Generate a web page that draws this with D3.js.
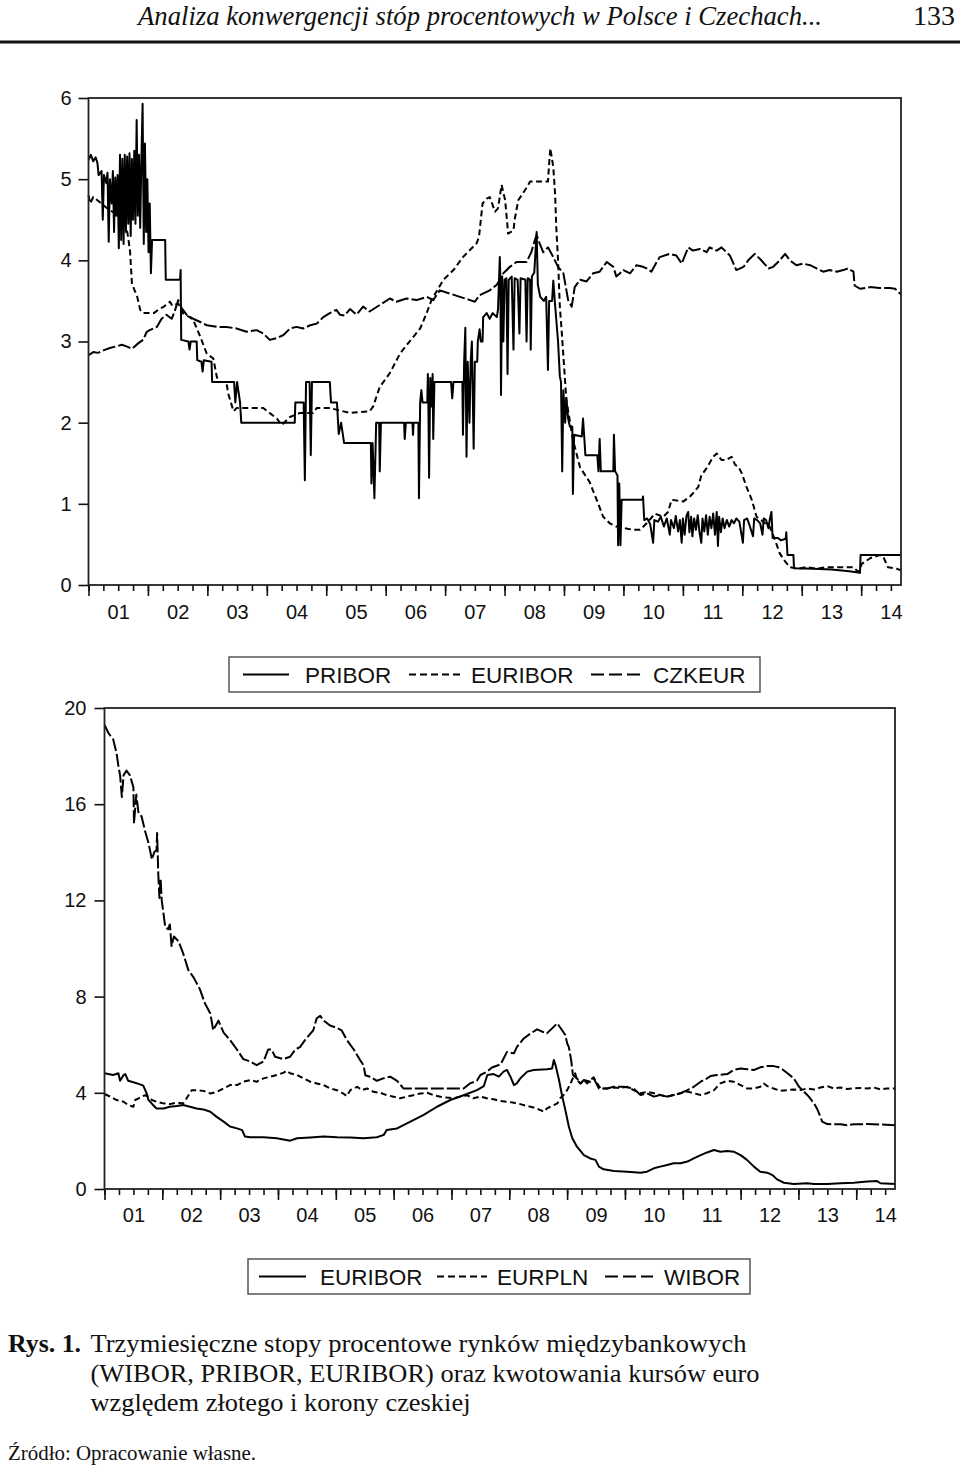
<!DOCTYPE html>
<html>
<head>
<meta charset="utf-8">
<script src="https://cdn.jsdelivr.net/npm/d3@7/dist/d3.min.js"></script>
<style>
body { margin: 0; background: #fff; }
svg text { font-family: "Liberation Sans", Arial, sans-serif; fill: #111; }
svg .serif { font-family: "Liberation Serif", "Times New Roman", serif; }
</style>
</head>
<body>
<svg id="chart" width="960" height="1471"></svg>
<script>
// ---- data: [year, value] ----
const pribor = [
  [2001.00,5.24],[2001.04,5.30],[2001.08,5.22],[2001.12,5.27],[2001.15,5.20],[2001.17,5.05],[2001.22,5.10],[2001.24,4.50],
  [2001.26,5.05],[2001.30,4.95],[2001.32,5.08],[2001.34,4.23],[2001.36,5.00],[2001.39,4.70],[2001.41,5.10],[2001.43,4.35],
  [2001.45,5.02],[2001.47,4.55],[2001.49,5.05],[2001.51,4.15],[2001.53,5.30],[2001.55,4.25],[2001.57,5.25],[2001.59,4.20],
  [2001.61,5.30],[2001.63,4.35],[2001.65,5.28],[2001.67,4.45],[2001.69,5.32],[2001.71,4.30],[2001.73,5.25],[2001.75,4.50],
  [2001.77,5.35],[2001.79,4.45],[2001.81,5.73],[2001.83,4.55],[2001.85,5.30],[2001.87,4.40],[2001.89,5.25],[2001.91,5.93],
  [2001.93,4.20],[2001.95,5.44],[2001.97,4.35],[2001.99,5.00],[2002.01,4.10],[2002.03,4.70],[2002.05,3.84],[2002.07,4.25],
  [2002.29,4.25],[2002.30,3.76],[2002.54,3.76],[2002.55,3.88],[2002.56,3.02],[2002.68,3.00],[2002.70,2.90],[2002.72,3.00],
  [2002.82,3.00],[2002.83,2.77],[2002.90,2.75],[2002.92,2.63],[2002.94,2.77],[2003.07,2.75],[2003.08,2.50],[2003.45,2.50],
  [2003.47,2.25],[2003.50,2.50],[2003.55,2.25],[2003.57,2.00],[2004.47,2.00],[2004.48,2.25],[2004.62,2.25],[2004.64,1.29],
  [2004.66,2.50],[2004.72,2.50],[2004.74,1.60],[2004.76,2.50],[2005.06,2.50],[2005.08,2.25],[2005.18,2.25],[2005.21,1.86],
  [2005.25,2.00],[2005.30,1.75],[2005.75,1.75],[2005.76,1.25],[2005.78,1.75],[2005.81,1.07],[2005.84,2.00],[2005.89,2.00],
  [2005.90,1.40],[2005.92,2.00],[2006.31,2.00],[2006.32,1.80],[2006.34,2.00],[2006.45,2.00],[2006.46,1.85],[2006.47,2.00],
  [2006.55,2.00],[2006.56,1.07],[2006.58,2.25],[2006.60,2.40],[2006.62,2.25],[2006.70,2.25],[2006.71,2.60],[2006.72,2.10],
  [2006.73,1.32],[2006.75,2.55],[2006.77,2.20],[2006.79,2.60],[2006.80,1.80],[2006.82,2.50],[2007.10,2.50],[2007.12,2.30],
  [2007.14,2.50],[2007.29,2.50],[2007.30,1.85],[2007.32,2.75],[2007.34,3.17],[2007.36,1.58],[2007.38,2.75],[2007.41,2.00],
  [2007.43,2.75],[2007.45,3.00],[2007.48,1.68],[2007.50,2.75],[2007.54,2.75],[2007.55,3.00],[2007.58,3.15],[2007.60,3.00],
  [2007.63,3.00],[2007.64,3.30],[2007.70,3.35],[2007.75,3.28],[2007.80,3.35],[2007.87,3.30],[2007.89,3.40],[2007.92,4.04],
  [2007.93,3.76],[2007.94,2.34],[2007.96,3.80],[2007.98,3.00],[2008.00,3.76],[2008.03,3.78],[2008.05,2.60],[2008.07,3.76],
  [2008.12,3.80],[2008.15,2.90],[2008.17,3.78],[2008.22,3.76],[2008.25,3.10],[2008.27,3.78],[2008.35,3.76],[2008.37,3.00],
  [2008.39,3.78],[2008.43,3.76],[2008.44,2.90],[2008.46,3.80],[2008.50,3.85],[2008.54,4.35],[2008.56,3.70],[2008.60,3.55],
  [2008.66,3.50],[2008.70,3.55],[2008.73,2.65],[2008.75,3.50],[2008.80,3.50],[2008.82,3.75],[2008.85,3.45],[2008.90,3.00],
  [2008.93,2.57],[2008.95,2.50],[2008.97,1.40],[2008.99,2.40],[2009.02,2.00],[2009.04,2.30],[2009.07,2.05],[2009.10,1.95],
  [2009.14,1.95],[2009.15,1.12],[2009.17,1.85],[2009.30,1.83],[2009.32,2.05],[2009.34,1.83],[2009.36,1.60],[2009.56,1.60],
  [2009.58,1.40],[2009.60,1.80],[2009.62,1.40],[2009.83,1.40],[2009.84,1.85],[2009.86,1.40],[2009.90,1.35],[2009.91,0.49],
  [2009.93,1.25],[2009.95,0.49],[2009.97,1.05],[2010.32,1.05],[2010.33,1.09],[2010.35,0.80],[2010.40,0.82],[2010.45,0.75],
  [2010.50,0.52],[2010.52,0.80],[2010.58,0.78],[2010.63,0.84],[2010.68,0.72],[2010.73,0.82],[2010.78,0.62],[2010.80,0.80],
  [2010.85,0.70],[2010.88,0.85],[2010.92,0.66],[2010.95,0.80],[2010.98,0.52],[2011.00,0.82],[2011.03,0.62],[2011.06,0.85],
  [2011.09,0.90],[2011.11,0.65],[2011.14,0.84],[2011.16,0.60],[2011.19,0.82],[2011.22,0.68],[2011.25,0.86],[2011.28,0.65],
  [2011.31,0.52],[2011.33,0.82],[2011.36,0.66],[2011.39,0.86],[2011.42,0.62],[2011.45,0.84],[2011.48,0.70],[2011.51,0.88],
  [2011.54,0.62],[2011.57,0.90],[2011.59,0.48],[2011.61,0.84],[2011.64,0.65],[2011.67,0.82],[2011.70,0.70],[2011.74,0.80],
  [2011.78,0.72],[2011.82,0.80],[2011.86,0.76],[2011.90,0.82],[2011.95,0.78],[2012.01,0.52],[2012.03,0.80],[2012.08,0.82],
  [2012.12,0.74],[2012.18,0.60],[2012.20,0.82],[2012.25,0.80],[2012.30,0.76],[2012.34,0.62],[2012.36,0.82],[2012.40,0.80],
  [2012.44,0.70],[2012.46,0.80],[2012.49,0.90],[2012.51,0.58],[2012.60,0.58],[2012.65,0.55],[2012.73,0.57],[2012.74,0.65],
  [2012.76,0.37],[2012.86,0.37],[2012.87,0.205],[2013.20,0.20],[2013.50,0.19],[2013.80,0.17],[2013.98,0.15],[2013.99,0.37],
  [2014.67,0.37]
];

const euriborTop = [
  [2001.00,4.80],[2001.03,4.70],[2001.08,4.78],[2001.15,4.74],[2001.25,4.68],[2001.35,4.62],[2001.45,4.58],[2001.53,4.58],
  [2001.64,4.40],[2001.67,4.27],[2001.70,4.10],[2001.73,3.72],[2001.77,3.64],[2001.82,3.55],[2001.87,3.39],[2001.92,3.35],
  [2002.10,3.35],[2002.17,3.39],[2002.27,3.43],[2002.37,3.49],[2002.41,3.44],[2002.51,3.47],[2002.59,3.35],[2002.76,3.27],
  [2002.88,3.06],[2002.99,2.85],[2003.10,2.79],[2003.16,2.56],[2003.21,2.50],[2003.32,2.50],[2003.35,2.36],[2003.44,2.14],
  [2003.49,2.18],[2003.72,2.18],[2003.94,2.18],[2004.17,2.05],[2004.25,1.97],[2004.39,2.07],[2004.56,2.12],[2004.78,2.12],
  [2004.84,2.18],[2005.06,2.18],[2005.40,2.12],[2005.73,2.14],[2005.79,2.20],[2005.90,2.44],[2006.07,2.61],[2006.24,2.85],
  [2006.38,2.98],[2006.58,3.16],[2006.69,3.35],[2006.77,3.51],[2006.97,3.76],[2007.14,3.88],[2007.30,4.04],[2007.53,4.21],
  [2007.57,4.29],[2007.63,4.70],[2007.70,4.76],[2007.75,4.78],[2007.84,4.60],[2007.89,4.64],[2007.95,4.93],[2008.01,4.74],
  [2008.06,4.33],[2008.15,4.37],[2008.17,4.50],[2008.23,4.74],[2008.34,4.86],[2008.43,4.97],[2008.73,4.97],[2008.75,5.19],
  [2008.77,5.38],[2008.82,5.15],[2008.85,4.82],[2008.87,4.41],[2008.90,4.00],[2008.93,3.43],[2008.96,3.14],[2009.04,2.28],
  [2009.15,1.79],[2009.27,1.45],[2009.43,1.27],[2009.55,1.05],[2009.66,0.84],[2009.77,0.76],[2009.88,0.72],[2010.16,0.68],
  [2010.28,0.68],[2010.39,0.76],[2010.53,0.88],[2010.67,0.84],[2010.75,0.90],[2010.81,1.05],[2011.01,1.03],[2011.12,1.09],
  [2011.17,1.13],[2011.26,1.21],[2011.31,1.35],[2011.40,1.44],[2011.51,1.58],[2011.57,1.62],[2011.65,1.54],[2011.73,1.54],
  [2011.82,1.58],[2011.88,1.48],[2011.93,1.46],[2011.99,1.38],[2012.07,1.21],[2012.16,1.05],[2012.24,0.84],[2012.35,0.78],
  [2012.46,0.72],[2012.55,0.555],[2012.63,0.39],[2012.72,0.29],[2012.80,0.22],[2012.94,0.20],[2013.08,0.22],[2013.25,0.20],
  [2013.42,0.22],[2013.87,0.22],[2013.95,0.16],[2014.01,0.26],[2014.15,0.33],[2014.31,0.37],[2014.37,0.35],[2014.45,0.22],
  [2014.60,0.20],[2014.67,0.18]
];

const czkeur = [
  [2001.00,2.83],[2001.08,2.87],[2001.16,2.86],[2001.25,2.89],[2001.36,2.92],[2001.47,2.94],[2001.56,2.96],[2001.64,2.94],
  [2001.73,2.91],[2001.84,2.98],[2001.92,3.02],[2001.98,3.12],[2002.03,3.14],[2002.15,3.18],[2002.23,3.28],[2002.31,3.33],
  [2002.40,3.28],[2002.45,3.37],[2002.51,3.51],[2002.57,3.41],[2002.65,3.33],[2002.76,3.28],[2002.88,3.24],[2002.99,3.20],
  [2003.16,3.18],[2003.32,3.18],[2003.49,3.16],[2003.66,3.12],[2003.83,3.14],[2003.94,3.10],[2004.05,3.02],[2004.16,3.04],
  [2004.28,3.08],[2004.39,3.16],[2004.50,3.18],[2004.61,3.16],[2004.73,3.20],[2004.84,3.22],[2004.95,3.30],[2005.06,3.35],
  [2005.17,3.39],[2005.23,3.33],[2005.31,3.32],[2005.40,3.40],[2005.51,3.33],[2005.62,3.43],[2005.73,3.37],[2005.90,3.45],
  [2006.07,3.53],[2006.18,3.49],[2006.35,3.53],[2006.52,3.51],[2006.69,3.55],[2006.80,3.51],[2006.91,3.63],[2007.08,3.59],
  [2007.25,3.55],[2007.42,3.51],[2007.50,3.49],[2007.58,3.57],[2007.75,3.63],[2007.87,3.70],[2007.98,3.84],[2008.09,3.92],
  [2008.20,3.98],[2008.37,3.98],[2008.45,4.10],[2008.51,4.25],[2008.54,4.31],[2008.59,4.21],[2008.65,4.10],[2008.73,4.16],
  [2008.82,4.04],[2008.90,3.92],[2008.99,3.84],[2009.07,3.51],[2009.13,3.43],[2009.18,3.67],[2009.27,3.76],[2009.38,3.74],
  [2009.49,3.84],[2009.60,3.86],[2009.72,3.98],[2009.83,3.92],[2009.88,3.80],[2010.00,3.88],[2010.11,3.84],[2010.22,3.94],
  [2010.33,3.92],[2010.39,3.90],[2010.47,3.86],[2010.56,3.98],[2010.61,4.04],[2010.78,4.08],[2010.89,4.06],[2010.98,3.96],
  [2011.09,4.16],[2011.17,4.12],[2011.29,4.14],[2011.40,4.10],[2011.45,4.16],[2011.57,4.12],[2011.65,4.16],[2011.79,4.06],
  [2011.90,3.88],[2012.02,3.92],[2012.10,4.00],[2012.21,4.08],[2012.32,4.00],[2012.44,3.90],[2012.52,3.92],[2012.63,4.00],
  [2012.72,4.08],[2012.80,4.00],[2012.91,3.94],[2013.02,3.96],[2013.14,3.94],[2013.25,3.90],[2013.36,3.86],[2013.47,3.88],
  [2013.59,3.86],[2013.70,3.88],[2013.78,3.90],[2013.87,3.86],[2013.89,3.69],[2013.98,3.65],[2014.15,3.67],[2014.31,3.66],
  [2014.48,3.66],[2014.57,3.65],[2014.67,3.58]
];

const euriborBottom = [
  [2001.00,4.81],[2001.15,4.74],[2001.24,4.81],[2001.27,4.50],[2001.33,4.74],[2001.36,4.78],[2001.41,4.50],[2001.50,4.44],
  [2001.59,4.37],[2001.67,4.30],[2001.73,3.97],[2001.76,3.70],[2001.79,3.63],[2001.84,3.49],[2001.90,3.35],[2002.02,3.35],
  [2002.13,3.42],[2002.25,3.45],[2002.36,3.49],[2002.48,3.42],[2002.59,3.35],[2002.71,3.31],[2002.83,3.21],[2002.94,3.00],
  [2003.06,2.80],[2003.17,2.60],[2003.29,2.52],[2003.38,2.45],[2003.43,2.18],[2003.52,2.15],[2003.75,2.15],[2003.98,2.11],
  [2004.21,2.01],[2004.33,2.11],[2004.56,2.14],[2004.79,2.18],[2005.02,2.15],[2005.25,2.14],[2005.48,2.11],[2005.71,2.15],
  [2005.83,2.25],[2005.88,2.45],[2006.06,2.52],[2006.29,2.80],[2006.52,3.08],[2006.75,3.42],[2006.98,3.70],[2007.21,3.90],
  [2007.44,4.11],[2007.56,4.28],[2007.62,4.74],[2007.73,4.78],[2007.82,4.67],[2007.90,4.88],[2007.96,4.95],[2008.02,4.67],
  [2008.08,4.32],[2008.13,4.39],[2008.19,4.60],[2008.31,4.88],[2008.42,4.95],[2008.65,4.98],[2008.74,5.01],[2008.77,5.36],
  [2008.80,5.15],[2008.86,4.53],[2008.91,3.91],[2008.97,3.28],[2009.03,2.59],[2009.09,2.11],[2009.17,1.76],[2009.29,1.41],
  [2009.40,1.27],[2009.49,1.21],[2009.55,0.93],[2009.63,0.82],[2009.81,0.75],[2010.04,0.72],[2010.27,0.68],[2010.38,0.72],
  [2010.50,0.86],[2010.61,0.93],[2010.73,1.00],[2010.84,1.07],[2010.96,1.07],[2011.08,1.14],[2011.19,1.27],[2011.31,1.41],
  [2011.42,1.52],[2011.54,1.62],[2011.65,1.55],[2011.77,1.58],[2011.88,1.55],[2012.00,1.41],[2012.11,1.21],[2012.23,0.93],
  [2012.34,0.72],[2012.46,0.68],[2012.55,0.58],[2012.63,0.40],[2012.75,0.26],[2012.92,0.21],[2013.15,0.24],[2013.27,0.21],
  [2013.50,0.21],[2013.73,0.24],[2013.96,0.26],[2014.19,0.31],[2014.36,0.33],[2014.42,0.24],[2014.68,0.21]
];

const eurpln = [
  [2001.00,3.95],[2001.10,3.84],[2001.21,3.70],[2001.33,3.63],[2001.41,3.49],[2001.50,3.42],[2001.53,3.70],[2001.59,3.77],
  [2001.64,3.84],[2001.70,3.90],[2001.76,3.84],[2001.82,3.70],[2001.90,3.63],[2002.02,3.56],[2002.13,3.53],[2002.25,3.59],
  [2002.36,3.56],[2002.42,3.77],[2002.51,4.11],[2002.59,4.11],[2002.71,4.08],[2002.83,3.97],[2002.94,4.04],[2003.06,4.18],
  [2003.17,4.32],[2003.29,4.32],[2003.40,4.46],[2003.52,4.53],[2003.63,4.46],[2003.75,4.60],[2003.87,4.67],[2003.98,4.74],
  [2004.10,4.84],[2004.15,4.92],[2004.21,4.81],[2004.33,4.74],[2004.44,4.60],[2004.56,4.46],[2004.67,4.39],[2004.79,4.32],
  [2004.90,4.18],[2005.02,4.11],[2005.13,3.97],[2005.19,3.86],[2005.25,4.11],[2005.37,4.25],[2005.45,4.11],[2005.54,4.18],
  [2005.65,4.04],[2005.77,4.00],[2005.88,3.90],[2006.00,3.84],[2006.11,3.77],[2006.23,3.84],[2006.34,3.90],[2006.46,3.97],
  [2006.58,4.00],[2006.69,3.90],[2006.81,3.84],[2006.92,3.80],[2007.04,3.77],[2007.15,3.84],[2007.27,3.90],[2007.38,3.77],
  [2007.50,3.84],[2007.61,3.77],[2007.73,3.73],[2007.84,3.66],[2007.96,3.63],[2008.08,3.59],[2008.19,3.53],[2008.31,3.45],
  [2008.42,3.39],[2008.54,3.28],[2008.60,3.21],[2008.65,3.35],[2008.71,3.42],[2008.77,3.49],[2008.83,3.56],[2008.88,3.77],
  [2008.94,3.91],[2009.00,4.11],[2009.06,4.39],[2009.11,4.67],[2009.14,4.81],[2009.17,4.53],[2009.23,4.39],[2009.29,4.53],
  [2009.35,4.39],[2009.40,4.53],[2009.46,4.64],[2009.52,4.39],[2009.58,4.18],[2009.69,4.18],[2009.81,4.22],[2009.92,4.20],
  [2010.04,4.25],[2010.15,4.11],[2010.27,3.98],[2010.38,4.04],[2010.50,3.98],[2010.61,3.91],[2010.73,3.84],[2010.84,3.91],
  [2010.96,3.98],[2011.08,4.05],[2011.19,3.98],[2011.31,3.91],[2011.42,3.98],[2011.54,4.11],[2011.65,4.39],[2011.77,4.50],
  [2011.88,4.46],[2012.00,4.32],[2012.11,4.18],[2012.23,4.18],[2012.34,4.25],[2012.40,4.39],[2012.46,4.28],[2012.57,4.18],
  [2012.69,4.08],[2012.81,4.11],[2012.92,4.14],[2013.04,4.11],[2013.15,4.18],[2013.27,4.14],[2013.38,4.22],[2013.50,4.28],
  [2013.61,4.18],[2013.73,4.22],[2013.84,4.16],[2013.96,4.18],[2014.07,4.20],[2014.19,4.18],[2014.30,4.22],[2014.42,4.14],
  [2014.53,4.18],[2014.68,4.18]
];

const wibor = [
  [2001.00,19.3],[2001.07,18.95],[2001.15,18.7],[2001.21,18.1],[2001.24,17.6],[2001.27,17.2],[2001.30,16.3],[2001.33,17.2],
  [2001.38,17.4],[2001.44,17.2],[2001.50,16.7],[2001.51,15.2],[2001.55,16.4],[2001.59,15.6],[2001.64,15.5],[2001.70,14.9],
  [2001.76,14.4],[2001.82,13.7],[2001.86,14.0],[2001.90,14.1],[2001.91,14.8],[2001.93,13.1],[2001.95,12.1],[2001.97,12.9],
  [2001.99,12.0],[2002.05,10.9],[2002.10,10.8],[2002.13,11.0],[2002.16,10.1],[2002.20,10.5],[2002.28,10.3],[2002.36,9.8],
  [2002.45,9.1],[2002.54,8.8],[2002.65,8.3],[2002.74,7.7],[2002.83,7.3],[2002.88,6.6],[2002.97,7.0],[2003.06,6.5],
  [2003.17,6.2],[2003.29,5.8],[2003.40,5.4],[2003.52,5.3],[2003.63,5.15],[2003.75,5.3],[2003.83,5.8],[2003.89,5.8],
  [2003.95,5.5],[2004.09,5.4],[2004.21,5.5],[2004.30,5.8],[2004.38,5.9],[2004.47,6.2],[2004.61,6.6],[2004.67,7.1],
  [2004.73,7.2],[2004.79,7.0],[2004.90,6.8],[2005.02,6.7],[2005.10,6.6],[2005.19,6.2],[2005.31,5.8],[2005.42,5.36],
  [2005.48,5.15],[2005.51,4.73],[2005.59,4.67],[2005.71,4.5],[2005.82,4.6],[2005.94,4.67],[2006.06,4.5],[2006.17,4.18],
  [2006.52,4.18],[2006.98,4.18],[2007.21,4.18],[2007.32,4.39],[2007.44,4.5],[2007.50,4.74],[2007.61,4.87],[2007.70,5.05],
  [2007.85,5.18],[2007.96,5.7],[2008.08,5.64],[2008.13,5.9],[2008.25,6.26],[2008.37,6.47],[2008.48,6.64],[2008.57,6.54],
  [2008.65,6.47],[2008.74,6.68],[2008.83,6.89],[2008.91,6.61],[2008.97,6.4],[2009.00,6.06],[2009.03,5.9],[2009.07,5.36],
  [2009.10,4.74],[2009.17,4.6],[2009.23,4.39],[2009.29,4.53],[2009.40,4.46],[2009.46,4.6],[2009.55,4.18],[2009.69,4.18],
  [2009.81,4.25],[2009.98,4.25],[2010.15,4.18],[2010.27,3.91],[2010.38,3.98],[2010.50,3.84],[2010.61,3.91],[2010.73,3.84],
  [2010.84,3.91],[2010.96,3.98],[2011.08,4.11],[2011.19,4.25],[2011.31,4.46],[2011.42,4.6],[2011.48,4.7],[2011.59,4.74],
  [2011.77,4.78],[2011.88,4.95],[2012.00,5.01],[2012.11,4.98],[2012.23,4.95],[2012.34,5.06],[2012.46,5.11],[2012.57,5.11],
  [2012.66,5.06],[2012.72,4.98],[2012.81,4.81],[2012.92,4.6],[2013.01,4.25],[2013.07,4.11],[2013.18,3.84],[2013.27,3.56],
  [2013.32,3.35],[2013.38,3.0],[2013.41,2.8],[2013.50,2.7],[2013.73,2.69],[2013.84,2.65],[2013.96,2.69],[2014.19,2.7],
  [2014.42,2.68],[2014.68,2.65]
];

const yearLabels = ["01","02","03","04","05","06","07","08","09","10","11","12","13","14"];
const topYTicks = [0, 1, 2, 3, 4, 5, 6];
const bottomYTicks = [0, 4, 8, 12, 16, 20];
const topNames = ["PRIBOR", "EURIBOR", "CZKEUR"];
const bottomNames = ["EURIBOR", "EURPLN", "WIBOR"];
const startYear = 2001, endYear = 2014.67;

const dashes = { solid: null, short: "6,3.5", long: "13,3" };

const svg = d3.select("#chart");

// header
svg.append("text")
  .attr("class", "serif")
  .attr("x", 138).attr("y", 25)
  .attr("font-size", 27)
  .attr("font-style", "italic")
  .attr("textLength", 684).attr("lengthAdjust", "spacingAndGlyphs")
  .text("Analiza konwergencji stóp procentowych w Polsce i Czechach...");
svg.append("text")
  .attr("class", "serif")
  .attr("x", 955).attr("y", 25)
  .attr("text-anchor", "end")
  .attr("font-size", 27)
  .attr("textLength", 42).attr("lengthAdjust", "spacingAndGlyphs")
  .text("133");
svg.append("rect")
  .attr("x", 0).attr("y", 40.5).attr("width", 960).attr("height", 3)
  .attr("fill", "#111");

function drawPanel(cfg) {
  const g = svg.append("g");
  const x = d3.scaleLinear().domain([startYear, endYear]).range([cfg.left, cfg.right]);
  const y = d3.scaleLinear().domain([0, cfg.yMax]).range([cfg.bottom, cfg.top]);

  // minor (quarterly) and major (yearly) ticks
  const quarters = d3.range(startYear, endYear, 0.25);
  const years = d3.range(startYear, 2015);
  const xMinor = g.append("g").attr("transform", `translate(0,${cfg.bottom})`)
    .call(d3.axisBottom(x).tickValues(quarters).tickSize(6).tickFormat(""));
  const xMajor = g.append("g").attr("transform", `translate(0,${cfg.bottom})`)
    .call(d3.axisBottom(x).tickValues(years).tickSize(11).tickFormat(""));
  const xLab = g.append("g").attr("transform", `translate(0,${cfg.bottom})`)
    .call(d3.axisBottom(x).tickValues(years.map(v => v + 0.5)).tickSize(0)
      .tickPadding(cfg.xPad).tickFormat((d, i) => yearLabels[i]));
  const yAx = g.append("g").attr("transform", `translate(${cfg.left},0)`)
    .call(d3.axisLeft(y).tickValues(cfg.yTicks).tickSize(10).tickPadding(cfg.yPad)
      .tickFormat(d3.format("d")));

  [xMinor, xMajor, xLab, yAx].forEach(a => {
    a.select(".domain").remove();
    a.selectAll("line").attr("stroke", "#111").attr("stroke-width", 1.6);
    a.selectAll("text").attr("font-size", 20).attr("fill", "#111")
      .style("font-family", '"Liberation Sans", Arial, sans-serif');
  });

  const line = d3.line().x(d => x(d[0])).y(d => y(d[1]));
  cfg.series.forEach(s => {
    g.append("path")
      .datum(s.values)
      .attr("d", line)
      .attr("fill", "none")
      .attr("stroke", "#000")
      .attr("stroke-width", 2)
      .attr("stroke-linejoin", "round")
      .attr("stroke-dasharray", dashes[s.dash]);
  });

  // frame
  g.append("rect")
    .attr("x", cfg.left).attr("y", cfg.top)
    .attr("width", cfg.right - cfg.left).attr("height", cfg.bottom - cfg.top)
    .attr("fill", "none").attr("stroke", "#222").attr("stroke-width", 1.8);

  // legend
  const lg = cfg.legend;
  g.append("rect")
    .attr("x", lg.x).attr("y", lg.y).attr("width", lg.w).attr("height", 35)
    .attr("fill", "none").attr("stroke", "#555").attr("stroke-width", 1.5);
  cfg.series.forEach((s, i) => {
    const it = lg.items[i];
    g.append("line")
      .attr("x1", it[0]).attr("x2", it[1])
      .attr("y1", lg.y + 17.5).attr("y2", lg.y + 17.5)
      .attr("stroke", "#000").attr("stroke-width", 2)
      .attr("stroke-dasharray", s.dash === "short" ? "7,4" : s.dash === "long" ? "13,5" : null);
    g.append("text")
      .attr("x", it[2]).attr("y", lg.y + 25.5)
      .attr("font-size", 22.5)
      .text(s.name);
  });
}

drawPanel({
  left: 88.5, right: 901, top: 98, bottom: 585, yMax: 6, yTicks: topYTicks,
  xPad: 20, yPad: 7,
  series: [
    { name: topNames[0], values: pribor, dash: "solid" },
    { name: topNames[1], values: euriborTop, dash: "short" },
    { name: topNames[2], values: czkeur, dash: "long" }
  ],
  legend: { x: 229, y: 657, w: 531, items: [[243, 289, 305], [409, 460, 471], [591, 640, 653]] }
});

drawPanel({
  left: 104.5, right: 895, top: 708, bottom: 1189, yMax: 20, yTicks: bottomYTicks,
  xPad: 19, yPad: 8,
  series: [
    { name: bottomNames[0], values: euriborBottom, dash: "solid" },
    { name: bottomNames[1], values: eurpln, dash: "short" },
    { name: bottomNames[2], values: wibor, dash: "long" }
  ],
  legend: { x: 248, y: 1259, w: 502, items: [[259, 306, 320], [437, 487, 497], [605, 653, 664]] }
});

// caption
const cap = svg.append("g").attr("class", "serif");
cap.append("text").attr("class", "serif")
  .attr("x", 8).attr("y", 1352).attr("font-size", 25).attr("font-weight", "bold")
  .attr("textLength", 73).attr("lengthAdjust", "spacingAndGlyphs")
  .text("Rys. 1.");
const capLines = [
  ["Trzymiesięczne stopy procentowe rynków międzybankowych", 1352, 656],
  ["(WIBOR, PRIBOR, EURIBOR) oraz kwotowania kursów euro", 1381.5, 669],
  ["względem złotego i korony czeskiej", 1410.5, 380]
];
capLines.forEach(l => {
  cap.append("text").attr("class", "serif")
    .attr("x", 90.5).attr("y", l[1]).attr("font-size", 25)
    .attr("textLength", l[2]).attr("lengthAdjust", "spacingAndGlyphs")
    .text(l[0]);
});
cap.append("text").attr("class", "serif")
  .attr("x", 8).attr("y", 1460).attr("font-size", 20)
  .attr("textLength", 248).attr("lengthAdjust", "spacingAndGlyphs")
  .text("Źródło: Opracowanie własne.");
</script>
</body>
</html>
